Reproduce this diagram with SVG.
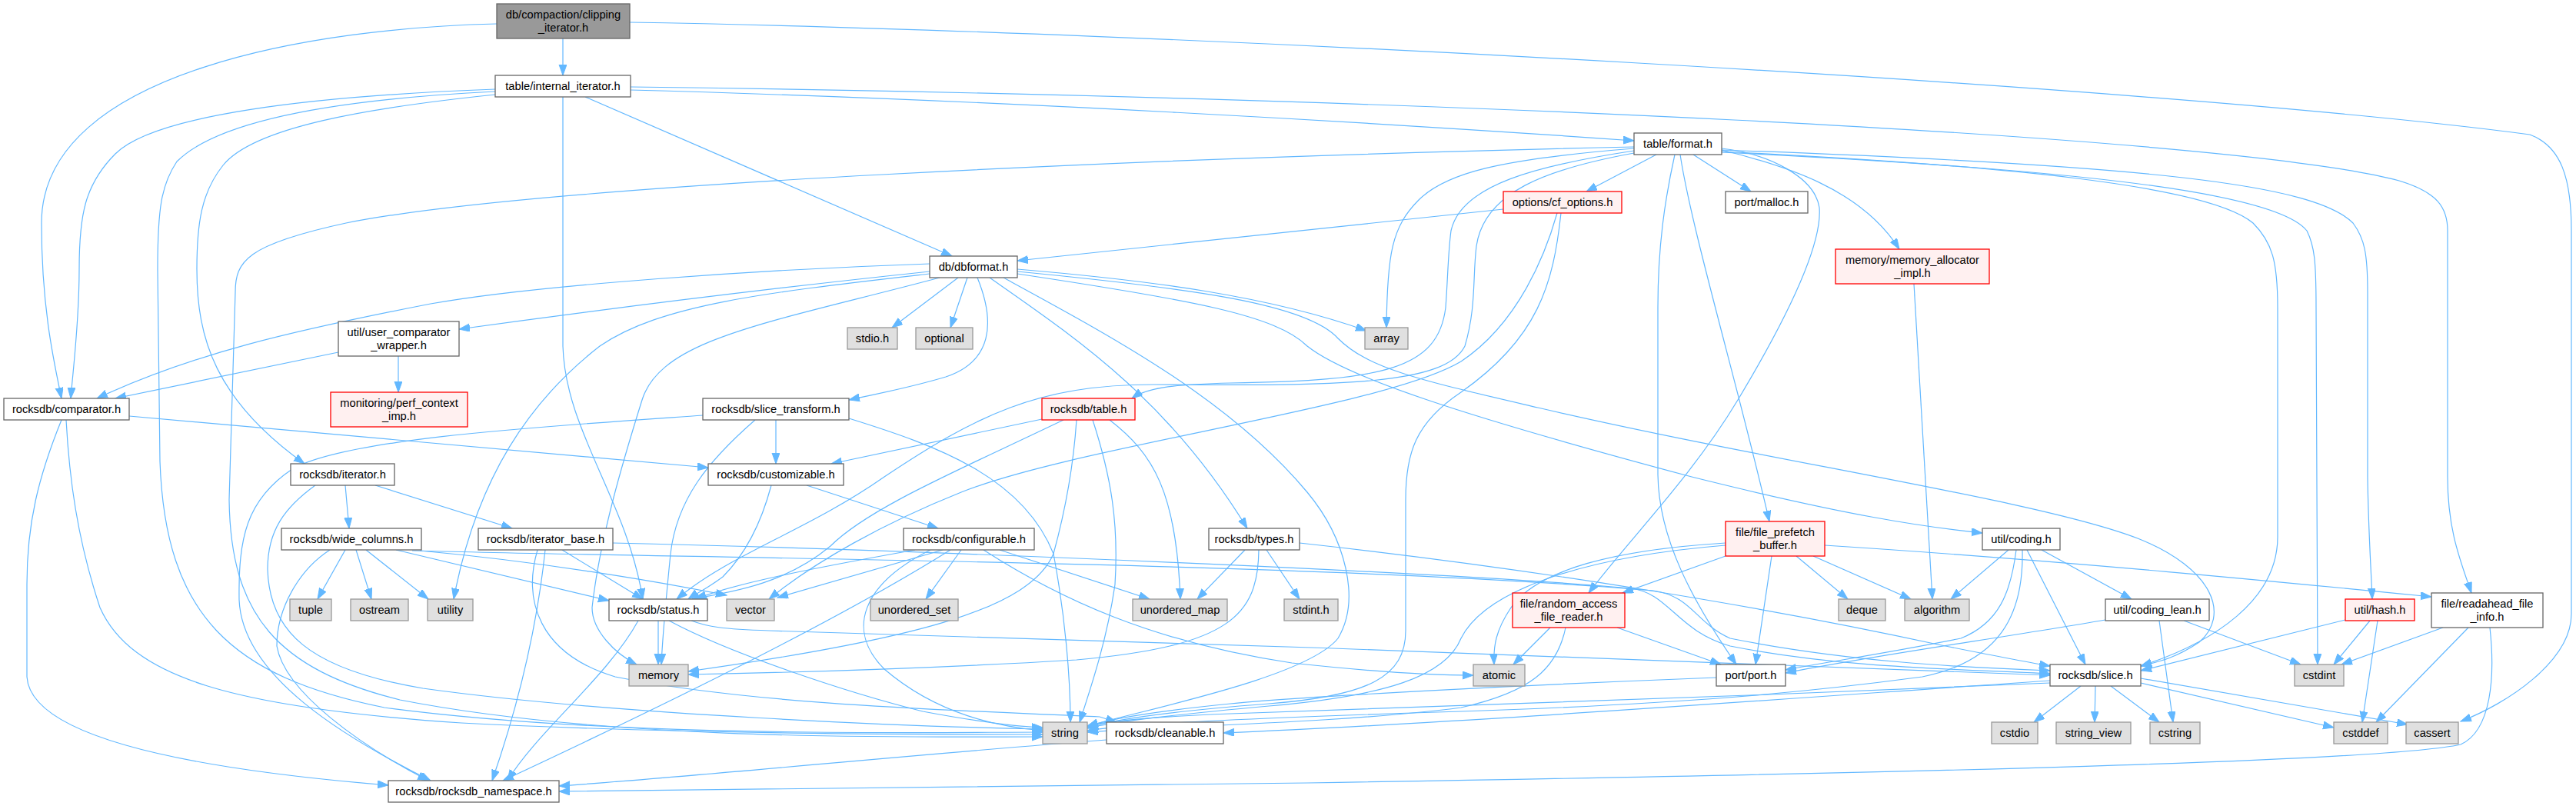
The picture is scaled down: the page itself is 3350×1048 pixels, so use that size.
<svg xmlns="http://www.w3.org/2000/svg" width="3350" height="1048" viewBox="0 0 3350 1048">
<style>
.w{fill:#fff;stroke:#666;stroke-width:1.3}
.g{fill:#e0e0e0;stroke:#999;stroke-width:1.3}
.r{fill:#fff0f0;stroke:#f00;stroke-width:1.3}
.rt{fill:#999;stroke:#666;stroke-width:1.3}
text{font-family:"Liberation Sans",Arial,sans-serif;font-size:14.7px;text-anchor:middle;fill:#000}
#edges path{fill:none;stroke:#63b8ff;stroke-width:1.2;marker-end:url(#a)}
</style>
<defs>
<marker id="a" markerUnits="userSpaceOnUse" markerWidth="16" markerHeight="12" refX="14" refY="5" orient="auto"><path d="M0,0 L14,5 L0,10 z" fill="#63b8ff" stroke="#63b8ff" stroke-width="1"/></marker>
</defs>
<rect width="3350" height="1048" fill="#fff"/>
<g id="edges">
<path d="M732,50 L732,98"/>
<path d="M646,31 C420,36 54,90 54,290 C54,400 70,470 80,518"/>
<path d="M819,29 C1500,40 2800,110 3290,175 C3330,190 3344,230 3344,300 L3344,798 C3344,860 3260,915 3200,938"/>
<path d="M644,116 C400,125 200,150 150,200 C110,240 103,280 103,350 C103,420 95,480 92,518"/>
<path d="M644,119 C420,130 280,160 230,210 C210,240 205,270 205,350 L208,600 C215,800 300,880 500,920 C800,960 1200,952 1356,952"/>
<path d="M644,123 C480,140 330,165 290,215 C262,250 256,290 256,350 C256,440 280,520 396,603"/>
<path d="M732,126 L732,450 C735,560 815,650 836,779"/>
<path d="M761,126 L1238,333"/>
<path d="M820,117 C1300,130 1800,160 2125,183"/>
<path d="M820,113 C1800,125 2900,175 3120,235 C3170,250 3183,270 3183,300 L3183,620 C3183,690 3200,730 3214,771"/>
<path d="M2154,201 L2063,249"/>
<path d="M2202,201 L2277,249"/>
<path d="M2239,195 C2320,215 2420,245 2470,324"/>
<path d="M2125,193 C1950,207 1880,225 1845,260 C1810,295 1804,330 1803,426"/>
<path d="M2125,196 C2000,215 1900,240 1887,300 C1883,330 1883,360 1880,400 C1870,480 1800,495 1600,498 C1520,500 1490,505 1472,518"/>
<path d="M2125,199 C2010,220 1930,250 1920,320 C1915,360 1920,400 1905,450 C1880,500 1750,502 1500,500 C1350,500 1270,540 1150,620 C1050,690 950,720 880,779"/>
<path d="M2125,191 C1500,205 700,240 450,290 C320,318 306,340 306,380 L298,650 C300,800 360,870 520,910 C800,965 1200,958 1356,958"/>
<path d="M2185,201 C2200,300 2260,500 2301,678"/>
<path d="M2239,193 C2300,200 2360,230 2366,270 C2370,320 2320,420 2260,520 C2200,620 2120,700 2066,771"/>
<path d="M2178,201 C2165,260 2156,320 2156,400 L2156,617 C2157,700 2200,780 2258,864"/>
<path d="M2239,197 C2600,215 2870,240 2930,290 C2955,315 2962,340 2962,400 L2962,698 C2962,780 2880,835 2784,866"/>
<path d="M2239,198 C2700,220 2960,250 3000,300 C3010,320 3012,340 3012,400 L3014,864"/>
<path d="M2239,195 C2800,215 3010,240 3060,290 C3075,310 3079,330 3079,380 L3079,620 C3080,690 3083,730 3085,779"/>
<path d="M1955,272 L1323,339"/>
<path d="M2025,277 C2010,330 1975,420 1900,470 C1800,530 1400,580 1250,640 C1150,680 1060,730 1000,779"/>
<path d="M2030,277 C2020,370 2000,440 1900,510 C1840,550 1828,590 1828,650 L1828,820 C1828,880 1780,905 1650,915 C1520,925 1450,935 1414,946"/>
<path d="M2489,369 C2495,450 2502,600 2513,779"/>
<path d="M1246,361 L1160,426"/>
<path d="M1258,361 L1236,426"/>
<path d="M1271,361 C1295,420 1290,470 1230,490 C1180,505 1140,512 1104,520"/>
<path d="M1287,361 C1400,440 1520,520 1622,687"/>
<path d="M1209,353 C1000,375 800,400 597,428"/>
<path d="M1209,343 C1000,350 700,370 560,395 C380,430 250,460 126,518"/>
<path d="M1209,356 C1000,380 860,395 780,450 C690,520 620,620 590,779"/>
<path d="M1222,361 C1000,420 860,440 835,520 C810,600 780,700 770,790 C770,820 800,850 828,864"/>
<path d="M1305,361 C1450,440 1600,520 1700,640 C1750,700 1770,780 1740,830 C1700,880 1500,920 1414,944"/>
<path d="M1323,350 C1500,365 1650,385 1777,430"/>
<path d="M1323,353 C1550,375 1700,395 1740,440 C1780,480 1850,495 2000,530 C2300,600 2650,650 2780,700 C2880,740 2900,800 2860,835 C2830,855 2810,860 2784,866"/>
<path d="M1323,356 C1550,390 1660,410 1700,450 C1750,490 1900,540 2200,620 C2400,670 2500,685 2578,693"/>
<path d="M1009,546 L1009,603"/>
<path d="M982,546 C920,600 880,650 872,720 C866,780 862,820 860,864"/>
<path d="M1104,544 C1220,580 1330,620 1370,720 C1385,800 1392,880 1392,939"/>
<path d="M914,540 C700,555 450,570 380,610 C320,650 310,700 311,780 C315,880 450,960 560,1015"/>
<path d="M440,458 L150,518"/>
<path d="M518,463 L518,510"/>
<path d="M168,541 L921,608"/>
<path d="M80,546 C50,620 35,680 35,760 L35,880 C40,960 250,1000 505,1021"/>
<path d="M86,546 C90,620 100,700 130,790 C170,880 300,920 600,940 C900,955 1200,955 1356,955"/>
<path d="M1355,545 L1081,603"/>
<path d="M1383,546 C1250,610 1130,660 1080,710 C1020,760 950,770 900,779"/>
<path d="M1400,546 C1395,620 1381,680 1370,720 C1340,790 1200,830 895,873"/>
<path d="M1421,546 C1445,620 1455,680 1450,760 C1440,830 1420,890 1404,939"/>
<path d="M1443,546 C1500,590 1530,640 1535,779"/>
<path d="M449,631 L454,687"/>
<path d="M488,631 L666,687"/>
<path d="M410,631 C370,660 348,690 348,740 C350,820 400,870 550,895 C800,930 1200,945 1356,948"/>
<path d="M1049,631 L1220,687"/>
<path d="M1003,631 C990,680 970,720 940,750 C920,765 905,772 895,779"/>
<path d="M449,715 L413,779"/>
<path d="M463,715 L483,779"/>
<path d="M476,715 L557,779"/>
<path d="M515,715 L792,781"/>
<path d="M429,715 C390,740 360,790 360,840 C370,900 470,970 557,1015"/>
<path d="M536,716 C900,726 1700,730 2150,768 C2200,775 2205,810 2250,830 C2400,860 2550,868 2666,872"/>
<path d="M546,716 C700,730 850,755 945,774"/>
<path d="M731,715 L836,779"/>
<path d="M797,706 C1200,715 1900,745 2120,765 C2170,770 2180,820 2250,840 C2400,870 2560,870 2666,876"/>
<path d="M699,715 C680,780 700,850 800,880 C1000,920 1300,925 1430,932 L1452,939"/>
<path d="M709,715 C700,800 680,900 640,1015"/>
<path d="M1190,715 C1050,740 950,760 905,779"/>
<path d="M1250,715 L1204,779"/>
<path d="M1300,715 L1495,779"/>
<path d="M1210,715 C1120,760 1100,820 1150,870 C1220,930 1300,945 1356,950"/>
<path d="M1226,715 L1011,777"/>
<path d="M1279,715 C1380,780 1500,835 1680,862 C1800,875 1880,878 1916,878"/>
<path d="M1236,715 C1100,800 900,900 654,1015"/>
<path d="M1619,715 L1557,779"/>
<path d="M1637,715 C1636,800 1600,840 1400,858 C1200,870 1000,875 895,877"/>
<path d="M1647,715 L1690,779"/>
<path d="M1690,706 C2000,740 2300,790 2520,838 C2580,850 2630,860 2666,866"/>
<path d="M2244,723 L2110,771"/>
<path d="M2304,723 L2283,864"/>
<path d="M2336,723 L2403,779"/>
<path d="M2358,723 L2485,779"/>
<path d="M2244,706 C2100,715 2000,740 1965,790 C1945,820 1942,840 1943,864"/>
<path d="M2244,709 C2050,725 1930,770 1900,830 C1880,880 1800,905 1650,918 C1520,930 1450,938 1414,947"/>
<path d="M2373,709 C2700,730 3000,760 3162,776"/>
<path d="M2612,715 L2537,779"/>
<path d="M2655,715 L2772,779"/>
<path d="M2636,715 L2712,864"/>
<path d="M2622,715 C2615,770 2600,810 2550,830 C2450,850 2380,860 2322,871"/>
<path d="M2630,715 C2632,800 2600,860 2500,880 C2350,900 2200,915 1900,925 C1650,933 1480,940 1414,950"/>
<path d="M2016,816 L1968,864"/>
<path d="M2103,816 L2238,864"/>
<path d="M2036,816 C2025,870 1990,900 1900,920 C1750,940 1500,945 1414,952"/>
<path d="M2738,806 C2600,830 2450,850 2322,875"/>
<path d="M2808,807 L2826,939"/>
<path d="M2840,807 L2992,864"/>
<path d="M3050,806 L2784,872"/>
<path d="M3082,807 L3035,864"/>
<path d="M3092,807 L3072,939"/>
<path d="M3177,816 L3045,864"/>
<path d="M3210,816 L3090,939"/>
<path d="M3238,816 C3245,880 3240,950 3200,968 C3100,990 2500,1005 1700,1018 C1200,1025 900,1028 727,1029"/>
<path d="M856,807 L856,864"/>
<path d="M870,807 C950,850 1100,900 1200,925 C1280,940 1330,945 1356,946"/>
<path d="M899,807 C920,815 940,818 1000,820 C1500,835 2300,860 2666,878"/>
<path d="M830,807 C790,880 700,950 660,1015"/>
<path d="M2232,881 C2000,890 1700,905 1600,915 C1500,925 1440,935 1414,945"/>
<path d="M2706,892 L2645,939"/>
<path d="M2725,892 L2724,939"/>
<path d="M2745,892 L2808,939"/>
<path d="M2784,888 L3035,946"/>
<path d="M2784,882 L3131,942"/>
<path d="M2666,885 C2300,910 1900,940 1591,953"/>
<path d="M2666,888 C2300,905 1800,920 1600,928 C1500,932 1440,937 1414,944"/>
<path d="M1439,962 C1200,980 900,1010 727,1022"/>
</g>
<g id="n_root"><rect class="rt" x="646" y="5" width="173" height="45"/><text x="732.5" y="24">db/compaction/clipping</text><text x="732.5" y="41">_iterator.h</text></g>
<g id="n_internal_iterator"><rect class="w" x="644" y="98" width="176" height="28"/><text x="732" y="117">table/internal_iterator.h</text></g>
<g id="n_format"><rect class="w" x="2125" y="173" width="114" height="28"/><text x="2182" y="192">table/format.h</text></g>
<g id="n_cf_options"><rect class="r" x="1955" y="249" width="154" height="28"/><text x="2032" y="268">options/cf_options.h</text></g>
<g id="n_malloc"><rect class="w" x="2244" y="249" width="107" height="28"/><text x="2297.5" y="268">port/malloc.h</text></g>
<g id="n_dbformat"><rect class="w" x="1209" y="333" width="114" height="28"/><text x="1266" y="352">db/dbformat.h</text></g>
<g id="n_mem_alloc"><rect class="r" x="2387" y="324" width="200" height="45"/><text x="2487" y="343">memory/memory_allocator</text><text x="2487" y="360">_impl.h</text></g>
<g id="n_ucw"><rect class="w" x="440" y="418" width="157" height="45"/><text x="518.5" y="437">util/user_comparator</text><text x="518.5" y="454">_wrapper.h</text></g>
<g id="n_stdio"><rect class="g" x="1102" y="426" width="65" height="28"/><text x="1134.5" y="445">stdio.h</text></g>
<g id="n_optional"><rect class="g" x="1191" y="426" width="74" height="28"/><text x="1228" y="445">optional</text></g>
<g id="n_array"><rect class="g" x="1775" y="426" width="56" height="28"/><text x="1803" y="445">array</text></g>
<g id="n_comparator"><rect class="w" x="5" y="518" width="163" height="28"/><text x="86.5" y="537">rocksdb/comparator.h</text></g>
<g id="n_perf"><rect class="r" x="430" y="510" width="178" height="45"/><text x="519" y="529">monitoring/perf_context</text><text x="519" y="546">_imp.h</text></g>
<g id="n_slice_transform"><rect class="w" x="914" y="518" width="190" height="28"/><text x="1009" y="537">rocksdb/slice_transform.h</text></g>
<g id="n_table"><rect class="r" x="1355" y="518" width="121" height="28"/><text x="1415.5" y="537">rocksdb/table.h</text></g>
<g id="n_iterator"><rect class="w" x="378" y="603" width="135" height="28"/><text x="445.5" y="622">rocksdb/iterator.h</text></g>
<g id="n_customizable"><rect class="w" x="921" y="603" width="176" height="28"/><text x="1009" y="622">rocksdb/customizable.h</text></g>
<g id="n_wide_columns"><rect class="w" x="366" y="687" width="182" height="28"/><text x="457" y="706">rocksdb/wide_columns.h</text></g>
<g id="n_iterator_base"><rect class="w" x="622" y="687" width="175" height="28"/><text x="709.5" y="706">rocksdb/iterator_base.h</text></g>
<g id="n_configurable"><rect class="w" x="1175" y="687" width="170" height="28"/><text x="1260" y="706">rocksdb/configurable.h</text></g>
<g id="n_types"><rect class="w" x="1572" y="687" width="118" height="28"/><text x="1631" y="706">rocksdb/types.h</text></g>
<g id="n_fpb"><rect class="r" x="2244" y="678" width="129" height="45"/><text x="2308.5" y="697">file/file_prefetch</text><text x="2308.5" y="714">_buffer.h</text></g>
<g id="n_coding"><rect class="w" x="2578" y="687" width="101" height="28"/><text x="2628.5" y="706">util/coding.h</text></g>
<g id="n_tuple"><rect class="g" x="377" y="779" width="54" height="28"/><text x="404" y="798">tuple</text></g>
<g id="n_ostream"><rect class="g" x="456" y="779" width="75" height="28"/><text x="493.5" y="798">ostream</text></g>
<g id="n_utility"><rect class="g" x="556" y="779" width="59" height="28"/><text x="585.5" y="798">utility</text></g>
<g id="n_status"><rect class="w" x="792" y="779" width="128" height="28"/><text x="856" y="798">rocksdb/status.h</text></g>
<g id="n_vector"><rect class="g" x="945" y="779" width="62" height="28"/><text x="976" y="798">vector</text></g>
<g id="n_unordered_set"><rect class="g" x="1132" y="779" width="114" height="28"/><text x="1189" y="798">unordered_set</text></g>
<g id="n_unordered_map"><rect class="g" x="1473" y="779" width="123" height="28"/><text x="1534.5" y="798">unordered_map</text></g>
<g id="n_stdint"><rect class="g" x="1670" y="779" width="70" height="28"/><text x="1705" y="798">stdint.h</text></g>
<g id="n_rafr"><rect class="r" x="1967" y="771" width="146" height="45"/><text x="2040" y="790">file/random_access</text><text x="2040" y="807">_file_reader.h</text></g>
<g id="n_deque"><rect class="g" x="2391" y="779" width="61" height="28"/><text x="2421.5" y="798">deque</text></g>
<g id="n_algorithm"><rect class="g" x="2477" y="779" width="84" height="28"/><text x="2519" y="798">algorithm</text></g>
<g id="n_coding_lean"><rect class="w" x="2738" y="779" width="135" height="28"/><text x="2805.5" y="798">util/coding_lean.h</text></g>
<g id="n_hash"><rect class="r" x="3050" y="779" width="90" height="28"/><text x="3095" y="798">util/hash.h</text></g>
<g id="n_readahead"><rect class="w" x="3162" y="771" width="145" height="45"/><text x="3234.5" y="790">file/readahead_file</text><text x="3234.5" y="807">_info.h</text></g>
<g id="n_memory"><rect class="g" x="818" y="864" width="77" height="28"/><text x="856.5" y="883">memory</text></g>
<g id="n_atomic"><rect class="g" x="1916" y="864" width="67" height="28"/><text x="1949.5" y="883">atomic</text></g>
<g id="n_port"><rect class="w" x="2232" y="864" width="90" height="28"/><text x="2277" y="883">port/port.h</text></g>
<g id="n_slice"><rect class="w" x="2666" y="864" width="118" height="28"/><text x="2725" y="883">rocksdb/slice.h</text></g>
<g id="n_cstdint"><rect class="g" x="2984" y="864" width="64" height="28"/><text x="3016" y="883">cstdint</text></g>
<g id="n_string"><rect class="g" x="1356" y="939" width="58" height="28"/><text x="1385" y="958">string</text></g>
<g id="n_cleanable"><rect class="w" x="1439" y="939" width="152" height="28"/><text x="1515" y="958">rocksdb/cleanable.h</text></g>
<g id="n_cstdio"><rect class="g" x="2590" y="939" width="60" height="28"/><text x="2620" y="958">cstdio</text></g>
<g id="n_string_view"><rect class="g" x="2674" y="939" width="97" height="28"/><text x="2722.5" y="958">string_view</text></g>
<g id="n_cstring"><rect class="g" x="2796" y="939" width="65" height="28"/><text x="2828.5" y="958">cstring</text></g>
<g id="n_cstddef"><rect class="g" x="3035" y="939" width="70" height="28"/><text x="3070" y="958">cstddef</text></g>
<g id="n_cassert"><rect class="g" x="3129" y="939" width="68" height="28"/><text x="3163" y="958">cassert</text></g>
<g id="n_namespace"><rect class="w" x="505" y="1015" width="222" height="28"/><text x="616" y="1034">rocksdb/rocksdb_namespace.h</text></g>
</svg>
